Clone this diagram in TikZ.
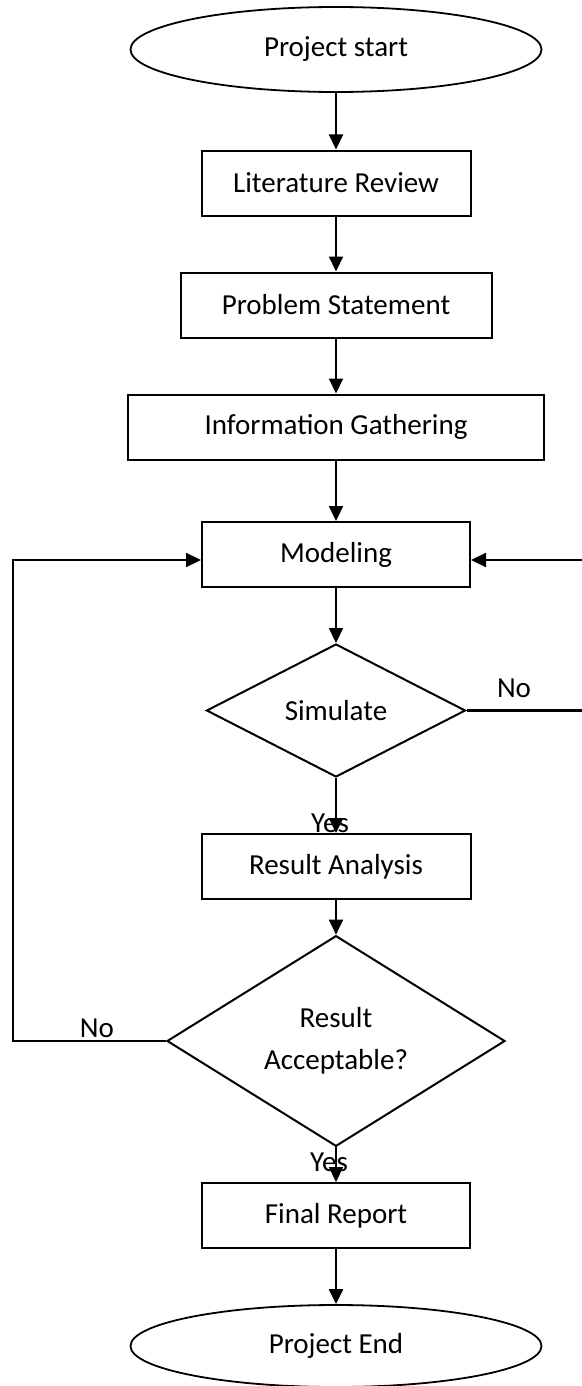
\documentclass[tikz,border=0pt]{standalone}
\usepackage{fontspec}
\setmainfont{Carlito}
\usetikzlibrary{shapes.geometric,arrows.meta}
\tikzset{
  terminal/.style={draw,ellipse,line width=0.9pt,minimum width=205.5pt,minimum height=42.5pt},
  process/.style={draw,rectangle,line width=1pt,minimum height=32.5pt},
  decision/.style={draw,diamond,line width=1pt,inner sep=0pt,align=center},
  flow/.style={-{Triangle[length=7.5pt,width=7pt]},line width=1.1pt},
  every node/.style={font=\fontsize{14.5pt}{21pt}\selectfont}
}
\begin{document}
\begin{tikzpicture}[x=0.5pt,y=-0.5pt]
         \useasboundingbox (0,0) rectangle (582,1386) ;
         \node[terminal] (start) at (336,49.5) {Project start} ;
         \node[process,minimum width=134.5pt] (lit) at (336,183) {Literature Review} ;
         \node[process,minimum width=155.5pt] (prob) at (336,305) {Problem Statement} ;
         \node[process,minimum width=208pt] (info) at (336,427) {Information Gathering} ;
         \node[process,minimum width=134pt] (model) at (336,554.5) {Modeling} ;
         \node[decision,minimum width=129.5pt,minimum height=66.5pt] (sim) at (336,710.5) {Simulate} ;
         \node[process,minimum width=134.5pt] (res) at (336,866.5) {Result Analysis} ;
         \node[decision,minimum width=169pt,minimum height=84pt] (acc) at (336,1041) {Result\\Acceptable?} ;
         \node[process,minimum width=134pt] (final) at (336,1215.5) {Final Report} ;
         \node[terminal,minimum height=41pt] (stop) at (336,1346) {Project End} ;
         % main line
         \draw[flow] (start) -- (lit) ;
         \draw[flow] (lit) -- (prob) ;
         \draw[flow] (prob) -- (info) ;
         \draw[flow] (info) -- (model) ;
         \draw[flow] (model) -- (sim) ;
         \draw[flow] (sim) -- (res) ;
         \draw[flow] (res) -- (acc) ;
         \draw[flow] (acc) -- (final) ;
         \draw[flow] (final) -- (stop) ;
         % loops back to modeling
         \coordinate (lft) at (13,560) ;
         \coordinate (rgt) at (586,560) ;
         \draw[flow] (acc.west) -- (acc.west -| lft) -- (lft) -- (lft -| model.west) ;
         \draw[flow] (sim.east) -- (sim.east -| rgt) -- (rgt) -- (rgt -| model.east) ;
         \node (yes1) at (330,823) {Yes} ;
         \node (yes2) at (329,1162) {Yes} ;
         \node (no1) at (514,688) {No} ;
         \node (no2) at (97,1028) {No} ;
      \end{tikzpicture}
\end{document}
